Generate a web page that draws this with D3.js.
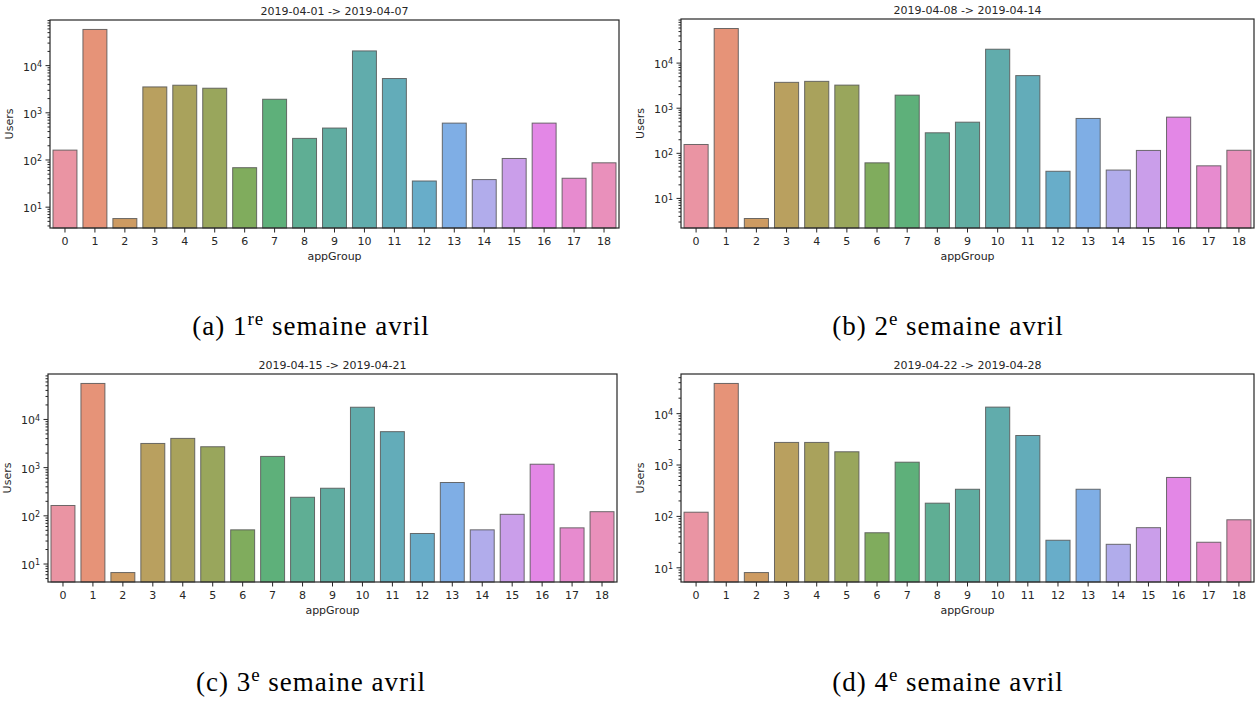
<!DOCTYPE html>
<html>
<head>
<meta charset="utf-8">
<script src="https://cdn.jsdelivr.net/npm/d3@7"></script>
<style>
  body { margin: 0; background: #fff; }
  svg { display: block; }
</style>
</head>
<body>
<svg id="fig" width="1256" height="703"></svg>
<script>
// ---- data ---------------------------------------------------------------
const appGroups = ["0","1","2","3","4","5","6","7","8","9","10","11","12","13","14","15","16","17","18"];

const weekTitles = [
  "2019-04-01 -> 2019-04-07",
  "2019-04-08 -> 2019-04-14",
  "2019-04-15 -> 2019-04-21",
  "2019-04-22 -> 2019-04-28"
];

// Users per appGroup, one array per week
const week1Users = [158, 57000, 5.6, 3450, 3750, 3240, 67, 1890, 280, 464, 20000, 5200, 35, 590, 37.5, 105, 590, 40, 85];
const week2Users = [153, 57000, 3.5, 3650, 3840, 3170, 60, 1900, 278, 478, 19800, 5150, 39, 578, 41.5, 113, 618, 51.5, 114];
const week3Users = [160, 54500, 6.5, 3100, 3950, 2650, 50, 1670, 237, 365, 17500, 5450, 42, 480, 50, 105, 1150, 55, 119];
const week4Users = [118, 37800, 7.9, 2690, 2690, 1770, 47, 1110, 177, 330, 13100, 3670, 33.6, 330, 28, 59, 560, 30.7, 84];

const captionLetters  = ["(a)", "(b)", "(c)", "(d)"];
const captionOrdinals = ["1", "2", "3", "4"];
const captionSuffixes = ["re", "e", "e", "e"];
const captionText     = "semaine avril";

const xLabel = "appGroup";
const yLabel = "Users";

// ---- layout -------------------------------------------------------------
const panels = [
  { users: week1Users, x0: 50,  x1: 619,  y0: 20,  y1: 228, capX: 311, capY: 335 },
  { users: week2Users, x0: 681, x1: 1254, y0: 19,  y1: 228, capX: 948, capY: 335 },
  { users: week3Users, x0: 48,  x1: 617,  y0: 374, y1: 582, capX: 311, capY: 691 },
  { users: week4Users, x0: 681, x1: 1254, y0: 374, y1: 582, capX: 948, capY: 691 }
];

const sansFont = '"DejaVu Sans", sans-serif';
const serifFont = '"Liberation Serif"';

// ---- husl palette (seaborn style) with 0.75 desaturation ----------------
const M = [
  [3.240969941904521, -1.537383177570093, -0.498610760293],
  [-0.96924363628087, 1.87596750150772, 0.041555057407175],
  [0.055630079696993, -0.20397695888897, 1.056971514242878]
];
const kappa = 903.2962962, eps = 0.0088564516, refU = 0.19783000664283, refV = 0.46831999493879;
function bounds(L) {
  const out = [];
  const s1 = Math.pow(L + 16, 3) / 1560896;
  const s2 = s1 > eps ? s1 : L / kappa;
  for (const [m1, m2, m3] of M) {
    for (const t of [0, 1]) {
      const top1 = (284517 * m1 - 94839 * m3) * s2;
      const top2 = (838422 * m3 + 769860 * m2 + 731718 * m1) * L * s2 - 769860 * t * L;
      const bot = (632260 * m3 - 126452 * m2) * s2 + 126452 * t;
      out.push([top1 / bot, top2 / bot]);
    }
  }
  return out;
}
function maxChroma(L, H) {
  const h = H / 360 * Math.PI * 2;
  let min = Infinity;
  for (const [sl, ic] of bounds(L)) {
    const len = ic / (Math.sin(h) - sl * Math.cos(h));
    if (len >= 0) min = Math.min(min, len);
  }
  return min;
}
function huslToRgb(H, S, L) {
  const C = maxChroma(L, H) / 100 * S;
  const h = H / 360 * Math.PI * 2;
  const U = Math.cos(h) * C, V = Math.sin(h) * C;
  const vu = U / (13 * L) + refU, vv = V / (13 * L) + refV;
  const Y = L <= 8 ? L / kappa : Math.pow((L + 16) / 116, 3);
  const X = 0 - (9 * Y * vu) / ((vu - 4) * vv - vu * vv);
  const Z = (9 * Y - 15 * vv * Y - vv * X) / (3 * vv);
  const lin = M.map(r => r[0] * X + r[1] * Y + r[2] * Z);
  const g = lin.map(c => c <= 0.0031308 ? 12.92 * c : 1.055 * Math.pow(c, 1 / 2.4) - 0.055);
  return g.map(c => Math.max(0, Math.min(1, c)));
}
const palette = appGroups.map((_, i, a) => {
  const hue = ((i / a.length + 0.01) % 1) * 359;
  const [r, g, b] = huslToRgb(hue, 0.9 * 99, 0.65 * 99);
  const c = d3.hsl(d3.rgb(r * 255, g * 255, b * 255));
  c.s *= 0.75;
  return c.formatHex();
});

// ---- drawing ------------------------------------------------------------
const svg = d3.select("#fig");
const textColor = "#262626";
const spineColor = "#262626";

function supLabel(sel, base, exp, supSize) {
  sel.text(null);
  sel.append("tspan").text(base);
  sel.append("tspan").attr("font-size", supSize).attr("dy", "-0.45em").text(exp);
}

panels.forEach((p, k) => {
  const g = svg.append("g").style("font-family", sansFont);

  const x = d3.scaleBand().domain(appGroups).range([p.x0, p.x1]).paddingInner(0.2).paddingOuter(0.1);

  // log axis limits: data range padded by 5% in log space on each side
  const lo = Math.log10(d3.min(p.users)), hi = Math.log10(d3.max(p.users));
  const pad = (hi - lo) * 0.05;
  const y = d3.scaleLog().domain([Math.pow(10, lo - pad), Math.pow(10, hi + pad)]).range([p.y1, p.y0]);

  // bars
  g.append("g").selectAll("rect")
    .data(p.users)
    .join("rect")
    .attr("x", (d, i) => x(appGroups[i]))
    .attr("width", x.bandwidth())
    .attr("y", d => y(d))
    .attr("height", d => p.y1 - y(d))
    .attr("fill", (d, i) => palette[i])
    .attr("fill-opacity", 0.85)
    .attr("stroke", "#555")
    .attr("stroke-opacity", 0.85)
    .attr("stroke-width", 1);

  // x axis
  const xa = g.append("g").attr("transform", `translate(0,${p.y1})`)
    .call(d3.axisBottom(x).tickSize(4.5).tickPadding(4.5));
  xa.select(".domain").remove();
  xa.selectAll("line").attr("stroke", spineColor).attr("stroke-width", 1);
  xa.selectAll("text").attr("font-size", 11).attr("fill", textColor).style("font-family", sansFont);

  // y axis: minor ticks
  const [d0, d1] = y.domain();
  const minors = [];
  for (let e = Math.floor(Math.log10(d0)); e <= Math.ceil(Math.log10(d1)); e++) {
    for (let m = 2; m <= 9; m++) {
      const v = m * Math.pow(10, e);
      if (v >= d0 && v <= d1) minors.push(v);
    }
  }
  const ya = g.append("g").attr("transform", `translate(${p.x0},0)`);
  ya.call(d3.axisLeft(y).tickValues(minors).tickSize(2.5).tickFormat(""));
  // y axis: major ticks at powers of ten
  const majors = [];
  for (let e = Math.ceil(Math.log10(d0)); e <= Math.floor(Math.log10(d1)); e++) majors.push(Math.pow(10, e));
  const yb = g.append("g").attr("transform", `translate(${p.x0},0)`);
  yb.call(d3.axisLeft(y).tickValues(majors).tickSize(4.5).tickPadding(3.5).tickFormat(""));
  [ya, yb].forEach(a => {
    a.select(".domain").remove();
    a.selectAll("line").attr("stroke", spineColor).attr("stroke-width", 1);
  });
  yb.selectAll(".tick text")
    .attr("font-size", 11).attr("fill", textColor).attr("dy", "0.45em")
    .style("font-family", sansFont)
    .each(function (d) { supLabel(d3.select(this), "10", String(Math.round(Math.log10(d))), 8); });

  // frame
  g.append("rect")
    .attr("x", p.x0).attr("y", p.y0)
    .attr("width", p.x1 - p.x0).attr("height", p.y1 - p.y0)
    .attr("fill", "none").attr("stroke", spineColor).attr("stroke-width", 1.2);

  // title and axis labels
  g.append("text")
    .attr("x", (p.x0 + p.x1) / 2).attr("y", p.y0 - 5)
    .attr("text-anchor", "middle").attr("font-size", 11).attr("fill", textColor)
    .text(weekTitles[k]);
  g.append("text")
    .attr("x", (p.x0 + p.x1) / 2).attr("y", p.y1 + 32)
    .attr("text-anchor", "middle").attr("font-size", 11).attr("fill", textColor)
    .text(xLabel);
  g.append("text")
    .attr("transform", `translate(${p.x0 - 37},${(p.y0 + p.y1) / 2}) rotate(-90)`)
    .attr("text-anchor", "middle").attr("font-size", 11).attr("fill", textColor)
    .text(yLabel);

  // subfigure caption
  const cap = svg.append("text")
    .style("font-family", serifFont)
    .attr("x", p.capX).attr("y", p.capY)
    .attr("text-anchor", "middle").attr("font-size", 27).attr("letter-spacing", 1)
    .attr("fill", "#000");
  cap.append("tspan").text(captionLetters[k] + " " + captionOrdinals[k]);
  cap.append("tspan").attr("font-size", 19).attr("dy", "-0.55em").text(captionSuffixes[k]);
  cap.append("tspan").attr("dy", "0.38em").text(" " + captionText);
});
</script>
</body>
</html>
